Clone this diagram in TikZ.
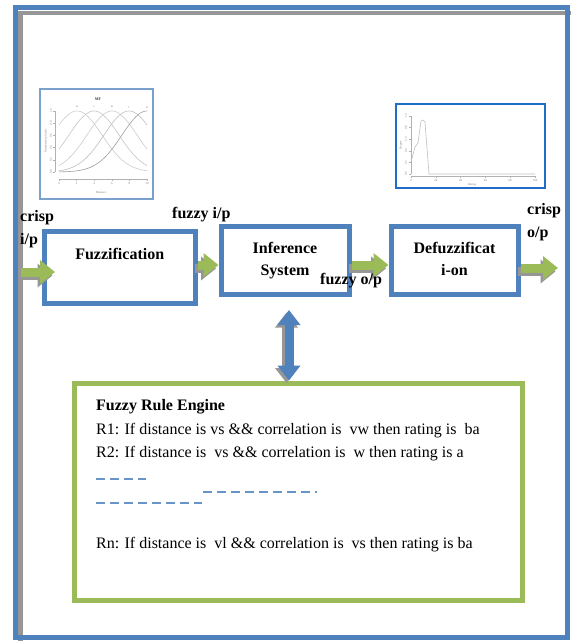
\documentclass[tikz,border=0pt]{standalone}
\usepackage{fontspec}
\setmainfont{Liberation Serif}
\usetikzlibrary{arrows.meta,positioning}
\definecolor{frameblue}{RGB}{79,129,189}
\definecolor{rulegreen}{RGB}{155,187,89}
\definecolor{shadegray}{RGB}{150,150,150}
\definecolor{plotblue}{RGB}{30,110,200}

\begin{document}
\begin{tikzpicture}[x=1pt, y=-1pt,
    box/.style={draw=frameblue, line width=5pt, fill=white, inner sep=0pt, align=center, font=\fontsize{16}{22}\selectfont\bfseries},
    lbl/.style={inner sep=0pt, align=left, font=\fontsize{16}{23.5}\selectfont\bfseries},
    rule/.style={inner sep=0pt, anchor=base west, font=\fontsize{16}{20}\selectfont},
    flow/.style={-{Triangle[width=23pt,length=15pt]}, draw=rulegreen, line width=9pt},
    flowshade/.style={flow, draw=shadegray, transform canvas={shift={(-2.5pt,-3.5pt)}}},
    updown/.style={{Triangle[width=22pt,length=15pt]}-{Triangle[width=22pt,length=15pt]}, draw=frameblue, line width=9pt},
    updownshade/.style={updown, draw=shadegray, transform canvas={shift={(-2.5pt,-2.5pt)}}},
    dashline/.style={draw=frameblue!85, line width=2pt, dash pattern=on 9pt off 5pt},
    axis/.style={draw=gray!60, line width=0.4pt},
    tiny/.style={inner sep=0pt, text=gray, font=\fontsize{3}{3}\selectfont}
]
\useasboundingbox (0,0) rectangle (571,641);
\fill[white] (0,0) rectangle (571,641);

% page frame with its shadow
\draw[shadegray, line width=4.5pt] (20.5,641) -- (20.5,13) -- (571,13);
\draw[frameblue, line width=5pt] (15.5,7.5) rectangle (567.5,637);

% membership function plot
\node[draw=frameblue!75, line width=1.5pt, minimum width=113pt, minimum height=110pt, inner sep=0pt] (mfplot) at (96.5,144) {};
\draw[axis] (55,111) -- (55,172);
\draw[axis] (59,179) -- (147,179);
\foreach \t [count=\i from 0] in {0.0,0.2,0.4,0.6,0.8,1.0} {
    \draw[axis] (53,172-12.2*\i) -- (55,172-12.2*\i);
    \node[tiny, rotate=90] at (51,172-12.2*\i) {\t};
}
\foreach \t [count=\i from 0] in {0,2,4,6,8,10} {
    \draw[axis] (59+17.6*\i,179) -- (59+17.6*\i,181);
    \node[tiny] at (59+17.6*\i,184) {\t};
}
\foreach \c/\s/\n in {77/gray!40/vs, 94/gray!45/s, 112/gray!40/m, 129/gray!50/l, 147/gray!75/vl} {
    \draw[\s, line width=0.6pt] plot[domain=59:147, samples=45, smooth] (\x,{172-61*exp(-(\x-\c)^2/1250)});
    \node[tiny] at (\c,107) {\n};
}
\node[inner sep=0pt, text=darkgray, font=\fontsize{4}{4}\selectfont\bfseries] (mftitle) at (98,99) {MF};
\node[tiny, rotate=90] (mfylab) at (46,141) {Membership Grade};
\node[tiny] (mfxlab) at (101,193) {Distance};

% defuzzified output plot
\node[draw=plotblue, line width=2.5pt, minimum width=149pt, minimum height=84pt, inner sep=0pt] (outplot) at (470.5,146) {};
\draw[axis] (411,116) -- (411,174);
\draw[axis] (411,176) -- (535,176);
\foreach \t [count=\i from 0] in {0.0,0.2,0.4,0.6,0.8,1.0} {
    \draw[axis] (409,174-11.6*\i) -- (411,174-11.6*\i);
    \node[tiny, rotate=90] at (406,174-11.6*\i) {\t};
}
\foreach \t [count=\i from 0] in {0,20,40,60,80,100} {
    \draw[axis] (411+24.8*\i,176) -- (411+24.8*\i,178);
    \node[tiny] at (411+24.8*\i,181) {\t};
}
\draw[gray!50, line width=0.6pt] (411,162) -- (415,147) -- (418,143) -- (421,121) -- (423,120) -- (425,122) -- (429,174) -- (535,174);
\node[tiny, rotate=90] (outylab) at (401,145) {Degree};
\node[tiny] (outxlab) at (472,185) {Rating};

% main chain
\node[box, minimum width=150.5pt, minimum height=72pt] (fuzz) at (119.75,267) {};
\node[lbl, below=20pt of fuzz.north] (fuzztxt) {Fuzzification};
\node[box, minimum width=128pt, minimum height=68pt, text depth=3pt] (infer) at (285,260) {Inference\\System};
\node[box, minimum width=127pt, minimum height=68pt, text depth=3pt] (defuzz) at (454.5,260) {Defuzzificat\\i-on};

\coordinate (inbeg) at (21,272);
\coordinate (outend) at (558,268);
\foreach \s in {flowshade,flow} {
    \draw[\s] (inbeg) -- ([xshift=13pt,yshift=-5pt]fuzz.west);
    \draw[\s] ([yshift=2pt]fuzz.east) -- ([yshift=-5pt]infer.west);
    \draw[\s] ([yshift=-5pt]infer.east) -- ([yshift=-5pt]defuzz.west);
    \draw[\s] ([yshift=-8pt]defuzz.east) -- (outend);
}

\node[lbl, anchor=north west] (crispin) at (20,210) {crisp\\i/p};
\node[lbl, anchor=base west] (fuzzyin) at (172,218) {fuzzy i/p};
\node[lbl, anchor=base west] (fuzzyout) at (320,284) {fuzzy o/p};
\node[lbl, anchor=north west] (crispout) at (527,203) {crisp\\o/p};

% rule base
\node[draw=rulegreen, line width=5pt, minimum width=447.5pt, minimum height=217.5pt, inner sep=0pt] (rules) at (298.25,491.75) {};
\coordinate (linktop) at (289,310);
\foreach \s in {updownshade,updown}
    \draw[\s] (linktop) -- (linktop |- rules.north);

\node[rule, font=\fontsize{16}{20}\selectfont\bfseries] (rtitle) at (96,410) {Fuzzy Rule Engine};
\node[rule] (r1) at (96,434) {R1: If distance is vs \&\& correlation is\ \ vw then rating is\ \ ba};
\node[rule] (r2) at (96,457) {R2: If distance is\ \ vs \&\& correlation is\ \ w then rating is a};
\draw[dashline] (96,479) -- (146,479);
\draw[dashline] (203,492) -- (317,492);
\draw[dashline] (96,503) -- (202,503);
\node[rule] (rn) at (96,548) {Rn: If distance is\ \ vl \&\& correlation is\ \ vs then rating is ba};
\end{tikzpicture}
\end{document}
